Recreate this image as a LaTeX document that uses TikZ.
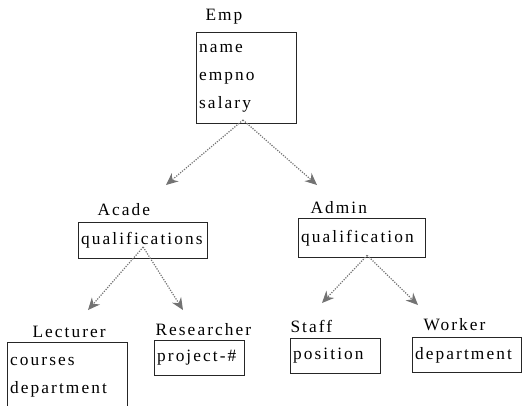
\documentclass[tikz,border=0pt]{standalone}
\usepackage{fontspec}
\setmainfont{Liberation Serif}[LetterSpace=12]
\usepackage{tikz}
\usetikzlibrary{arrows.meta}
\tikzset{every picture/.style={line width=0.75pt}}
\tikzset{
  classbox/.style={draw=black!85, anchor=north west, align=left, inner xsep=2pt, inner ysep=0pt, font=\fontsize{13}{21}\selectfont},
  classname/.style={anchor=base west, inner sep=0pt, font=\fontsize{13}{15}\selectfont},
  isa/.style={densely dotted, draw=black!55, line width=0.9pt, -{Stealth[length=9pt,width=8pt,fill=black!55]}}
}

\begin{document}
\begin{tikzpicture}[x=0.75pt,y=0.75pt,yscale=-1,xscale=1]
\useasboundingbox (0,0) rectangle (524,405);

% Class Boxes
\node [classbox, text width=71pt, minimum height=68.25pt] (emp) at (196,32) {name\\empno\\salary};
\node [classbox, text width=93pt, minimum height=27pt] (acade) at (78,222) {qualifications};
\node [classbox, text width=91pt, minimum height=29.25pt] (admin) at (298,218) {qualification};
\node [classbox, text width=86pt, minimum height=51.75pt] (lecturer) at (7,342) {courses\\department};
\node [classbox, text width=63.5pt, minimum height=26.25pt] (researcher) at (154,340) {project-\#};
\node [classbox, text width=63.5pt, minimum height=26.25pt] (staff) at (290,338) {position};
\node [classbox, text width=78pt, minimum height=26.25pt] (worker) at (412,337) {department};

% Class Names
\node [classname] (emp name) at (205,20) {Emp};
\node [classname] (acade name) at (97,215) {Acade};
\node [classname] (admin name) at (310,213) {Admin};
\node [classname] (lecturer name) at (32,337) {Lecturer};
\node [classname] (researcher name) at (155,335) {Researcher};
\node [classname] (staff name) at (290,332) {Staff};
\node [classname] (worker name) at (423,330) {Worker};

% Arrow Tips
\coordinate (acade tip) at (166,185);
\coordinate (admin tip) at (317,185);
\coordinate (lecturer tip) at (88,310);
\coordinate (researcher tip) at (183,310);
\coordinate (staff tip) at (322,303);
\coordinate (worker tip) at (418,305);

% Inheritance Arrows
\draw [isa] ([xshift=-2.6pt,yshift=-3pt]emp.south) -- (acade tip);
\draw [isa] ([xshift=-2.6pt,yshift=-3pt]emp.south) -- (admin tip);
\draw [isa] ([yshift=-9pt]acade.south) -- (lecturer tip);
\draw [isa] ([yshift=-9pt]acade.south) -- (researcher tip);
\draw [isa] ([xshift=4pt,yshift=-2pt]admin.south) -- (staff tip);
\draw [isa] ([xshift=4pt,yshift=-2pt]admin.south) -- (worker tip);

\end{tikzpicture}
\end{document}
